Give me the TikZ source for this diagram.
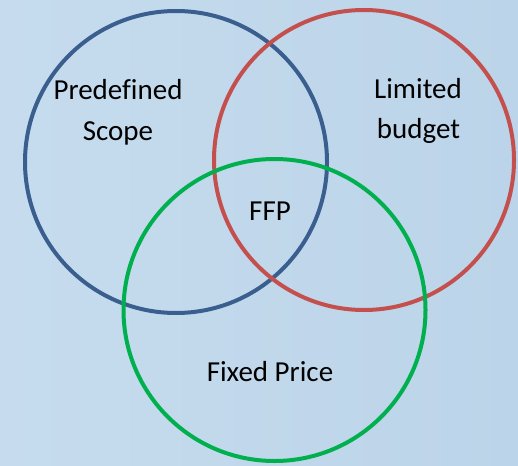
\documentclass[tikz,border=0pt]{standalone}
\usepackage{fontspec}
\setmainfont[Ligatures=NoCommon]{Carlito}
\begin{document}
\begin{tikzpicture}[x=1pt,y=-1pt,
  ring/.style={circle,draw,line width=4pt,inner sep=0pt},
  lbl/.style={anchor=base,inner sep=0pt,font=\fontsize{29}{35}\selectfont,text=black}]
\definecolor{bgL}{HTML}{C6DCEE}
\definecolor{bgR}{HTML}{BCD4E9}
\definecolor{cblue}{HTML}{3A5F8F}
\definecolor{cred}{HTML}{C4504D}
\definecolor{cgreen}{HTML}{00B04E}
\useasboundingbox (0,0) rectangle (518,465);
\shade[left color=bgL,right color=bgR] (0,0) rectangle (518,465);
\node[ring,draw=cblue,minimum size=302pt] (scope) at (176,162) {};
\node[ring,draw=cred,minimum size=300pt] (budget) at (364,160) {};
\node[ring,draw=cgreen,minimum size=302pt] (price) at (274.5,310) {};
\node[lbl] (t1a) at (118,100) {Predefined};
\node[lbl] (t1b) at (118,140) {Scope};
\node[lbl] (t2a) at (418,99) {Limited};
\node[lbl] (t2b) at (418.5,139) {budget};
\node[lbl] (ffp) at (270,220) {FFP};
\node[lbl] (t3) at (270,381) {Fixed Price};
\end{tikzpicture}
\end{document}
